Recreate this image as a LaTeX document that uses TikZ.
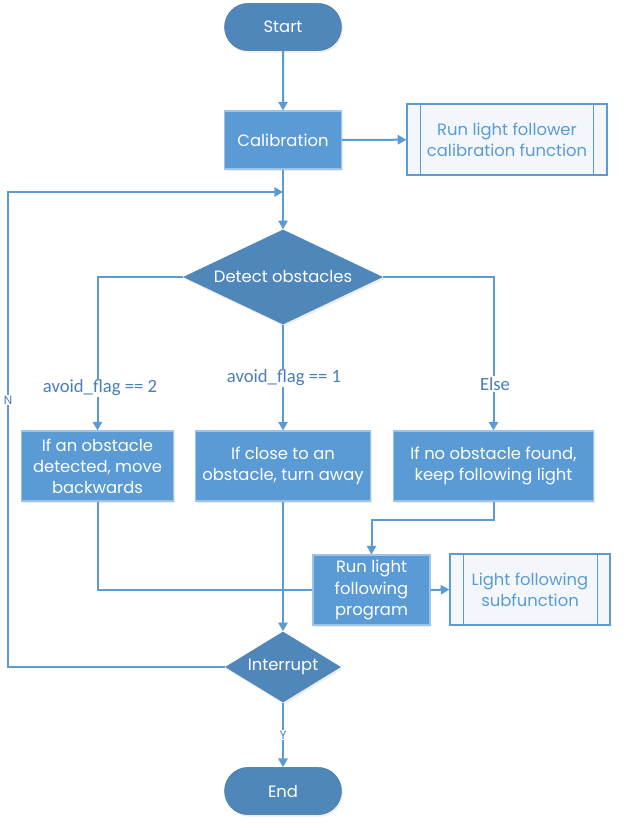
\documentclass[tikz,border=0pt]{standalone}
\usepackage{fontspec}
\setmainfont{Poppins}
\newfontfamily\labelfont{Carlito}
\usetikzlibrary{shapes.geometric,shapes.misc,arrows.meta,shadows}
\definecolor{darkfill}{HTML}{4F87BA}
\definecolor{boxfill}{HTML}{5B9BD5}
\definecolor{linec}{HTML}{5B9BD5}
\definecolor{predfill}{HTML}{F3F6FB}
\definecolor{predtext}{HTML}{5B9BD5}
\definecolor{labc}{HTML}{4A7EBB}
\begin{document}
\begin{tikzpicture}[x=0.75pt,y=-0.75pt,
  font=\fontsize{12.3}{15.8}\selectfont,
  shd/.style={drop shadow={opacity=0.15,shadow xshift=1pt,shadow yshift=-1.5pt}},
  terminal/.style={rounded rectangle, fill=darkfill, draw=darkfill!85!black, line width=0.3pt, text=white, minimum width=87.75pt, minimum height=35.5pt, inner sep=0pt, shd},
  procbox/.style={rectangle, fill=boxfill, draw=boxfill!60!white, line width=0.8pt, text=white, align=center, inner sep=0pt, shd},
  decision/.style={diamond, aspect=2, fill=darkfill, text=white, inner sep=0pt, shd},
  predef/.style={rectangle, draw=linec, fill=predfill, text=predtext, line width=0.9pt, align=center, inner sep=0pt},
  conn/.style={draw=linec, line width=1.5pt},
  arr/.style={conn, -{Triangle[length=6.5pt,width=7pt]}},
  lab/.style={font=\labelfont\fontsize{14}{16}\selectfont, text=labc, fill=white, inner sep=1pt},
  tiny/.style={font=\fontsize{9}{10}\selectfont, text=labc, fill=white, inner sep=0.5pt}
]
\fill[white] (0,0) rectangle (629,830);
\useasboundingbox (0,0) rectangle (629,830);

% nodes
\node[terminal] (start) at (283,27) {Start};
\node[procbox, minimum width=87.75pt, minimum height=43.5pt] (calib) at (283,140) {Calibration};
\node[predef, minimum width=150pt, minimum height=53.25pt] (pre1) at (507,139.5) {Run light follower\\calibration function};
\draw[linec, line width=0.9pt] ([xshift=10.5pt]pre1.north west) -- ([xshift=10.5pt]pre1.south west)
  ([xshift=-10.5pt]pre1.north east) -- ([xshift=-10.5pt]pre1.south east);

\node[decision, minimum width=150pt, minimum height=71.25pt] (detect) at (283,277) {Detect obstacles};

\node[procbox, minimum width=114pt, minimum height=52.5pt] (back) at (97.5,466) {If an obstacle\\detected, move\\backwards};
\node[procbox, minimum width=131pt, minimum height=52.5pt] (turn) at (283,466) {If close to an\\obstacle, turn away};
\node[procbox, minimum width=150pt, minimum height=52.5pt] (keep) at (493.5,466) {If no obstacle found,\\keep following light};

\node[procbox, minimum width=87.75pt, minimum height=52.5pt] (run) at (371.5,590) {Run light\\following\\program};
\node[predef, minimum width=120pt, minimum height=53.25pt] (pre2) at (530,589.5) {Light following\\subfunction};
\draw[linec, line width=0.9pt] ([xshift=10.5pt]pre2.north west) -- ([xshift=10.5pt]pre2.south west)
  ([xshift=-10pt]pre2.north east) -- ([xshift=-10pt]pre2.south east);

\node[decision, minimum width=87pt, minimum height=53.25pt] (intr) at (283,667) {Interrupt};
\node[terminal] (end) at (283,791) {End};

\coordinate (loopin) at (283,192);
\coordinate (loopl) at (8,667);
\coordinate (loopt) at (8,192);

% connectors
\draw[arr] (start) -- (calib);
\draw[arr] (calib) -- (pre1);
\draw[arr] (calib) -- (detect);
\draw[arr] (intr.west) -- (loopl) -- (loopt) -- (loopin);
\node[tiny] (nlab) at (8,400) {N};

\draw[arr] (detect.west) -| (back.north);
\draw[arr] (detect.south) -- (turn.north);
\draw[arr] (detect.east) -| (keep.north);
\node[lab] (l2) at (100,388) {avoid\_flag == 2};
\node[lab] (l1) at (284,378) {avoid\_flag == 1};
\node[lab] (l3) at (495,384) {Else};

\draw[arr] (keep.south) -- ++(0,18) -| (run.north);
\draw[conn] (back.south) |- (run.west);
\draw[arr] (turn.south) -- (intr.north);
\draw[arr] (run.east) -- (pre2.west);
\draw[arr] (intr.south) -- (end.north);
\node[tiny] (ylab) at (283,735) {Y};
\end{tikzpicture}
\end{document}
